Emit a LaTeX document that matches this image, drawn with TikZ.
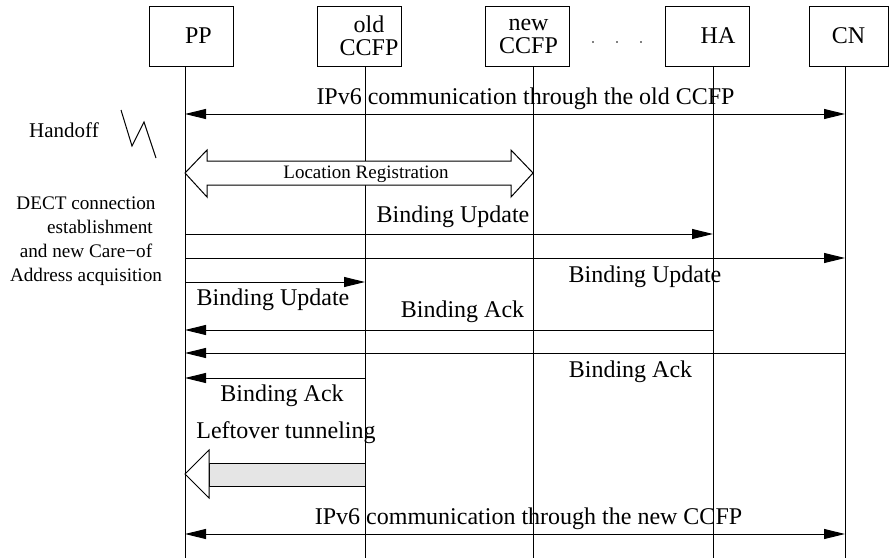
\documentclass[tikz,border=0pt]{standalone}
\usepackage{fontspec}
\setmainfont{Liberation Serif}
\usetikzlibrary{arrows.meta,calc}

\tikzset{
  ent/.style={draw, line width=0.5pt, minimum width=42pt, minimum height=30pt, inner sep=0pt},
  enttxt/.style={font=\fontsize{12}{11.5}\selectfont, align=center, inner sep=0pt},
  life/.style={line width=0.5pt},
  msg/.style={line width=0.5pt, -{Triangle[length=10.5pt,width=5pt]}},
  dmsg/.style={line width=0.5pt, {Triangle[length=10.5pt,width=5pt]}-{Triangle[length=10.5pt,width=5pt]}},
  lbl/.style={font=\fontsize{12}{14}\selectfont, inner sep=0pt, anchor=base},
  note/.style={font=\fontsize{9.6}{12}\selectfont, inner sep=0pt, align=center},
  blk/.style={draw, line width=0.5pt, line join=miter},
}

\begin{document}
\begin{tikzpicture}[x=0.5pt, y=-0.5pt]
  \useasboundingbox (0,0) rectangle (889,558);

  % Entities
  \node[ent, label={[enttxt, xshift=3.75pt]center:PP}] (pp) at (191,36) {};
  \node[ent, label={[enttxt, xshift=5pt]center:old\\CCFP}] (old) at (359,36) {};
  \node[ent, label={[enttxt, xshift=0.75pt]center:new\\CCFP}] (new) at (527,36) {};
  \node[ent, label={[enttxt, xshift=5.5pt]center:HA}] (ha) at (707,36) {};
  \node[ent, minimum width=39.5pt, label={[enttxt]center:CN}] (cn) at (848.5,36) {};
  \foreach \x in {593,617,641}
    \fill (\x,42) circle (0.4pt);

  % Lifelines
  \coordinate (pp-end) at (185,558);
  \coordinate (old-end) at (365,558);
  \coordinate (new-end) at (533,558);
  \coordinate (ha-end) at (713,558);
  \coordinate (cn-end) at (845,558);
  \foreach \e in {pp,old,new,ha,cn}
    \draw[life] (\e.south -| \e-end) -- (\e-end);

  % Side notes
  \node[inner sep=0pt, anchor=base, font=\fontsize{10.5}{12}\selectfont] (handoff) at (64,137) {Handoff};
  \draw[line width=0.5pt] (121,110) -- (132,146) -- (144,122) -- (156,158);
  \node[note] (dect) at (86,241) {DECT connection\\\hspace*{14pt}establishment\\and new Care−of\\Address acquisition};

  % Communication through the old CCFP
  \draw[dmsg] (pp-end |- 0,114) -- (cn-end |- 0,114);
  \node[lbl] (ipold) at (525.5,104) {IPv6 communication through the old CCFP};

  % Location Registration
  \draw[blk, fill=white] (pp-end |- 0,173) -- ++(22,-23) -- ++(0,11)
    -- ($(new-end |- 0,161)+(-22,0)$) -- ++(0,-11) -- (new-end |- 0,173)
    -- ++(-22,24) -- ++(0,-12) -- ($(pp-end |- 0,185)+(22,0)$) -- ++(0,12) -- cycle;
  \node[inner sep=0pt, font=\fontsize{9.5}{11}\selectfont] (locreg) at (366,174) {Location Registration};

  % Binding Updates
  \draw[msg] (pp-end |- 0,234) -- (ha-end |- 0,234);
  \node[lbl] (buha) at (453,222) {Binding Update};
  \draw[msg] (pp-end |- 0,258) -- (cn-end |- 0,258);
  \node[lbl] (bucn) at (645,282) {Binding Update};
  \draw[msg] (pp-end |- 0,282) -- (old-end |- 0,282);
  \node[lbl] (buold) at (273,305) {Binding Update};

  % Binding Acks
  \draw[msg] (ha-end |- 0,330) -- (pp-end |- 0,330);
  \node[lbl] (baha) at (462.5,317) {Binding Ack};
  \draw[msg] (cn-end |- 0,353) -- (pp-end |- 0,353);
  \node[lbl] (bacn) at (630.5,377) {Binding Ack};
  \draw[msg] (old-end |- 0,378) -- (pp-end |- 0,378);
  \node[lbl] (baold) at (282,401) {Binding Ack};

  % Leftover tunneling
  \node[lbl] (tunnel) at (286,438) {Leftover tunneling};
  \draw[blk, fill=gray!20] ($(pp-end |- 0,463)+(24,0)$) rectangle (old-end |- 0,486);
  \draw[blk, fill=white] (pp-end |- 0,474) -- ++(24,-24) -- ++(0,48) -- cycle;

  % Communication through the new CCFP
  \draw[dmsg] (pp-end |- 0,534) -- (cn-end |- 0,534);
  \node[lbl] (ipnew) at (528.5,524) {IPv6 communication through the new CCFP};
\end{tikzpicture}
\end{document}
